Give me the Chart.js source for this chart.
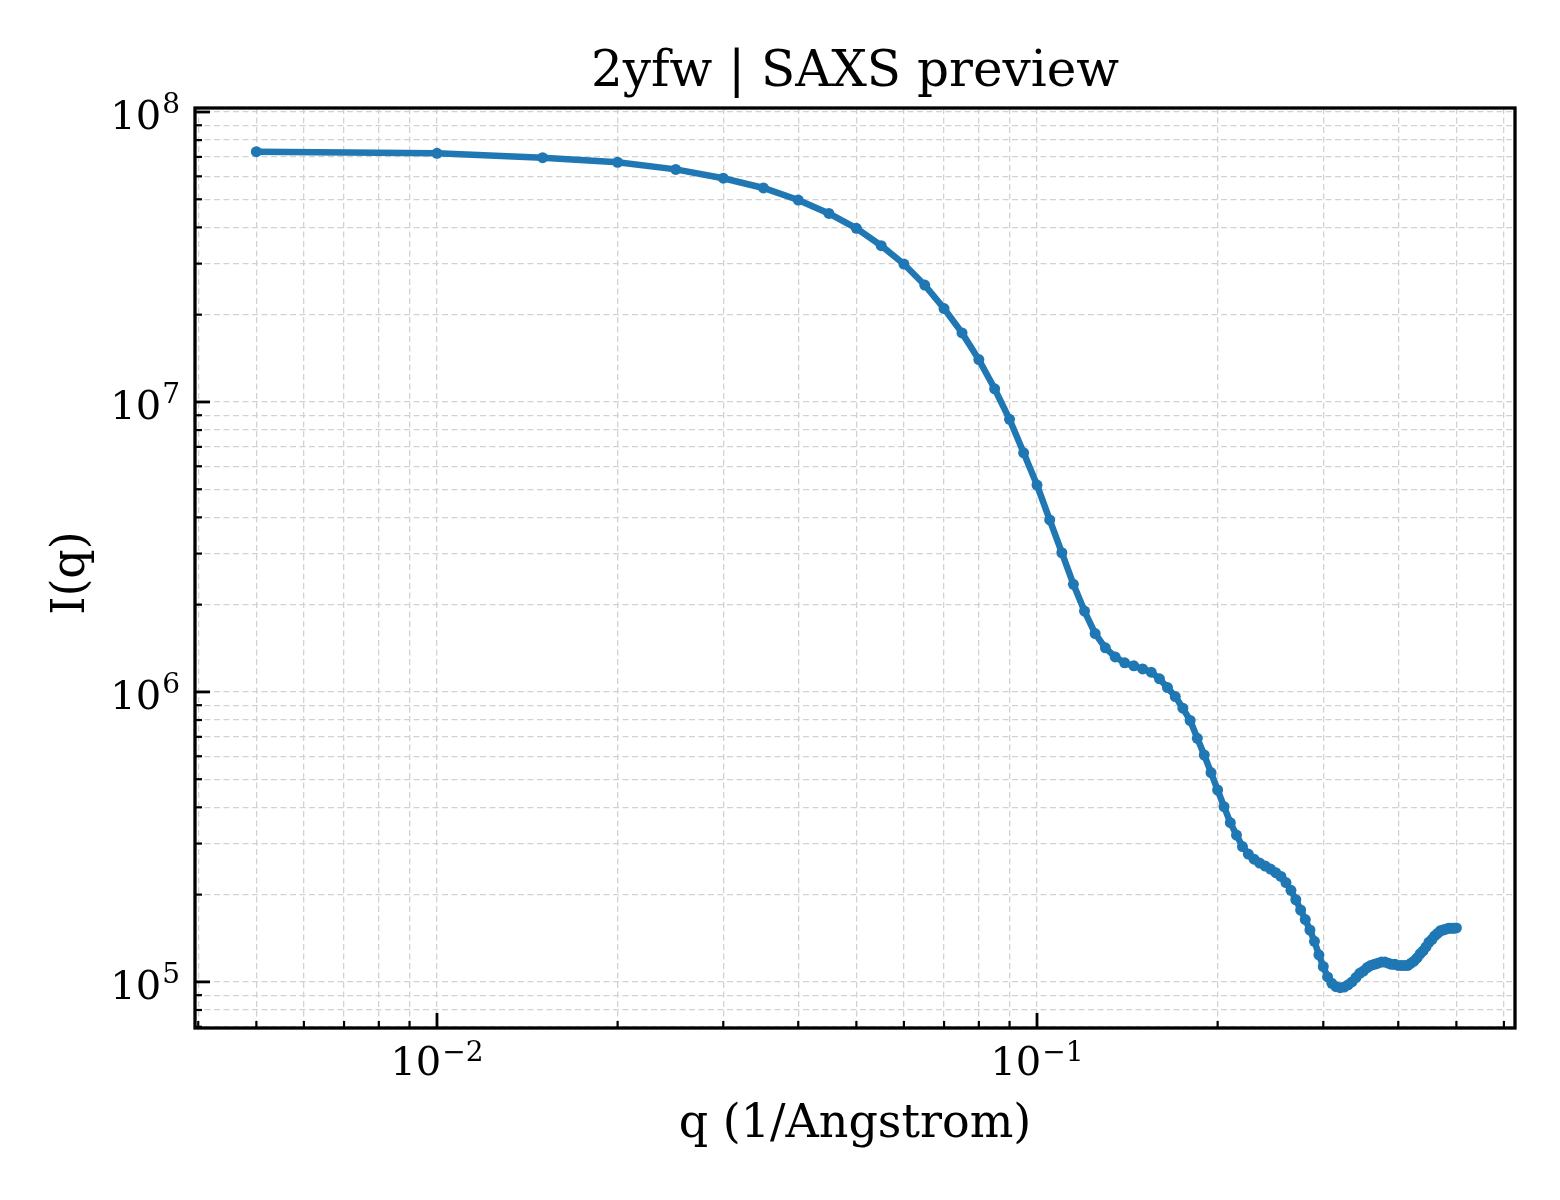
<!DOCTYPE html>
<html>
<head>
<meta charset="utf-8">
<title>2yfw | SAXS preview</title>
<script src="https://cdn.jsdelivr.net/npm/chart.js@4.4.0/dist/chart.umd.min.js"></script>
<style>
  html, body { margin: 0; padding: 0; background: #fff; }
  #wrap { width: 1560px; height: 1200px; }
</style>
</head>
<body>
<div id="wrap"><canvas id="saxsChart" width="1560" height="1200"></canvas></div>
<script>
const qValues = [
  0.005, 0.010, 0.015, 0.020, 0.025, 0.030, 0.035, 0.040, 0.045, 0.050,
  0.055, 0.060, 0.065, 0.070, 0.075, 0.080, 0.085, 0.090, 0.095, 0.100,
  0.105, 0.110, 0.115, 0.120, 0.125, 0.130, 0.135, 0.140, 0.145, 0.150,
  0.155, 0.160, 0.165, 0.170, 0.175, 0.180, 0.185, 0.190, 0.195, 0.200,
  0.205, 0.210, 0.215, 0.220, 0.225, 0.230, 0.235, 0.240, 0.245, 0.250,
  0.255, 0.260, 0.265, 0.270, 0.275, 0.280, 0.285, 0.290, 0.295, 0.300,
  0.305, 0.310, 0.315, 0.320, 0.325, 0.330, 0.335, 0.340, 0.345, 0.350,
  0.355, 0.360, 0.365, 0.370, 0.375, 0.380, 0.385, 0.390, 0.395, 0.400,
  0.405, 0.410, 0.415, 0.420, 0.425, 0.430, 0.435, 0.440, 0.445, 0.450,
  0.455, 0.460, 0.465, 0.470, 0.475, 0.480, 0.485, 0.490, 0.495, 0.500
];
const intensity = [
  7.30e7, 7.20e7, 6.96e7, 6.71e7, 6.34e7, 5.91e7, 5.47e7, 4.97e7, 4.47e7, 3.97e7,
  3.46e7, 2.99e7, 2.53e7, 2.10e7, 1.73e7, 1.40e7, 1.11e7, 8.71e6, 6.68e6, 5.17e6,
  3.92e6, 3.02e6, 2.35e6, 1.90e6, 1.59e6, 1.42e6, 1.32e6, 1.26e6, 1.23e6, 1.20e6,
  1.17e6, 1.11e6, 1.035e6, 9.64e5, 8.79e5, 7.97e5, 6.92e5, 6.06e5, 5.27e5, 4.59e5,
  4.02e5, 3.54e5, 3.21e5, 2.93e5, 2.76e5, 2.65e5, 2.57e5, 2.51e5, 2.45e5, 2.38e5,
  2.31e5, 2.20e5, 2.07e5, 1.92e5, 1.77e5, 1.64e5, 1.51e5, 1.38e5, 1.24e5, 1.13e5,
  1.04e5, 9.89e4, 9.63e4, 9.55e4, 9.60e4, 9.77e4, 1.00e5, 1.035e5, 1.07e5, 1.09e5,
  1.12e5, 1.14e5, 1.15e5, 1.16e5, 1.17e5, 1.17e5, 1.16e5, 1.15e5, 1.15e5, 1.14e5,
  1.14e5, 1.14e5, 1.14e5, 1.16e5, 1.18e5, 1.21e5, 1.25e5, 1.28e5, 1.32e5, 1.37e5,
  1.40e5, 1.44e5, 1.47e5, 1.50e5, 1.51e5, 1.52e5, 1.53e5, 1.53e5, 1.53e5, 1.535e5
];

// axis limits and decades that carry ticks
const xLimits = [0.003951, 0.6261];
const yLimits = [69340, 1.0323e8];
const xDecades = [-3, -2, -1];
const yDecades = [4, 5, 6, 7, 8];
const mantissas = [1, 2, 3, 4, 5, 6, 7, 8, 9];

const titleText = '2yfw | SAXS preview';
const xLabelText = 'q (1/Angstrom)';
const yLabelText = 'I(q)';

const SERIF = '"DejaVu Serif", "Liberation Serif", serif';
const LINE_BLUE = '#1f77b4';

function decadeTicks(decades, limits) {
    const ticks = [];
    decades.forEach(d => {
        mantissas.forEach(m => {
            const v = m * Math.pow(10, d);
            if (v >= limits[0] && v <= limits[1]) ticks.push({ value: v, major: m === 1 });
        });
    });
    return ticks;
}

function superscript(ctx, exp, x, y, align, raise) {
    // draws 10^exp with the baseline of "10" at y
    const base = '10';
    const sup = exp < 0 ? '\u2212' + Math.abs(exp) : String(exp);
    ctx.font = `40px ${SERIF}`;
    const wBase = ctx.measureText(base).width;
    ctx.font = `28px ${SERIF}`;
    const wSup = ctx.measureText(sup).width;
    const total = wBase + wSup + 1;
    let left = x;
    if (align === 'right') left = x - total;
    else if (align === 'center') left = x - total / 2;
    ctx.textAlign = 'left';
    ctx.textBaseline = 'alphabetic';
    ctx.font = `40px ${SERIF}`;
    ctx.fillText(base, left, y);
    ctx.font = `28px ${SERIF}`;
    ctx.fillText(sup, left + wBase + 1, y - raise);
}

// frame, inward ticks, tick labels and axis texts (matplotlib look)
const axesDecor = {
    id: 'axesDecor',
    afterDraw(chart) {
        const { ctx, chartArea: a, scales } = chart;
        ctx.save();

        ctx.strokeStyle = '#000';
        ctx.lineCap = 'butt';
        scales.x.ticks.forEach(t => {
            const px = scales.x.getPixelForValue(t.value);
            ctx.lineWidth = t.major ? 2.8 : 2.2;
            ctx.beginPath();
            ctx.moveTo(px, a.bottom);
            ctx.lineTo(px, a.bottom - (t.major ? 15 : 7));
            ctx.stroke();
        });
        scales.y.ticks.forEach(t => {
            const py = scales.y.getPixelForValue(t.value);
            ctx.lineWidth = t.major ? 2.8 : 2.2;
            ctx.beginPath();
            ctx.moveTo(a.left, py);
            ctx.lineTo(a.left + (t.major ? 15 : 7), py);
            ctx.stroke();
        });

        ctx.lineWidth = 3.3;
        ctx.strokeRect(a.left, a.top, a.right - a.left, a.bottom - a.top);

        ctx.fillStyle = '#000';
        scales.x.ticks.filter(t => t.major).forEach(t => {
            const px = scales.x.getPixelForValue(t.value);
            superscript(ctx, Math.round(Math.log10(t.value)), px, a.bottom + 47, 'center', 14);
        });
        scales.y.ticks.filter(t => t.major).forEach(t => {
            const py = scales.y.getPixelForValue(t.value);
            superscript(ctx, Math.round(Math.log10(t.value)), a.left - 15, py + 17, 'right', 16);
        });

        const cx = (a.left + a.right) / 2;
        ctx.textAlign = 'center';
        ctx.textBaseline = 'alphabetic';
        ctx.font = `50px ${SERIF}`;
        ctx.fillText(titleText, cx, 86);
        ctx.font = `46px ${SERIF}`;
        ctx.fillText(xLabelText, cx, 1137);

        ctx.translate(72, 573);
        ctx.rotate(-Math.PI / 2);
        ctx.textBaseline = 'middle';
        ctx.fillText(yLabelText, 0, 0);
        ctx.restore();
    }
};

const gridStyle = { color: '#d2d2d2', lineWidth: 1.3, drawTicks: false };

new Chart(document.getElementById('saxsChart'), {
    type: 'line',
    data: {
        datasets: [{
            label: 'I(q)',
            data: qValues.map((q, i) => ({ x: q, y: intensity[i] })),
            borderColor: LINE_BLUE,
            backgroundColor: LINE_BLUE,
            borderWidth: 6.5,
            pointRadius: 5.5,
            pointBorderWidth: 0,
            pointBackgroundColor: LINE_BLUE,
            tension: 0,
            fill: false
        }]
    },
    options: {
        responsive: false,
        animation: false,
        devicePixelRatio: 1,
        layout: { padding: { top: 108, right: 45, left: 0, bottom: 0 } },
        plugins: { legend: { display: false }, title: { display: false }, tooltip: { enabled: false } },
        scales: {
            x: {
                type: 'logarithmic',
                min: xLimits[0],
                max: xLimits[1],
                grid: gridStyle,
                border: { display: false, dash: [6, 3.5] },
                ticks: { display: false },
                afterBuildTicks: s => { s.ticks = decadeTicks(xDecades, xLimits); },
                afterFit: s => { s.height = 172; }
            },
            y: {
                type: 'logarithmic',
                min: yLimits[0],
                max: yLimits[1],
                grid: gridStyle,
                border: { display: false, dash: [6, 3.5] },
                ticks: { display: false },
                afterBuildTicks: s => { s.ticks = decadeTicks(yDecades, yLimits); },
                afterFit: s => { s.width = 195; }
            }
        }
    },
    plugins: [axesDecor]
});
</script>
</body>
</html>
